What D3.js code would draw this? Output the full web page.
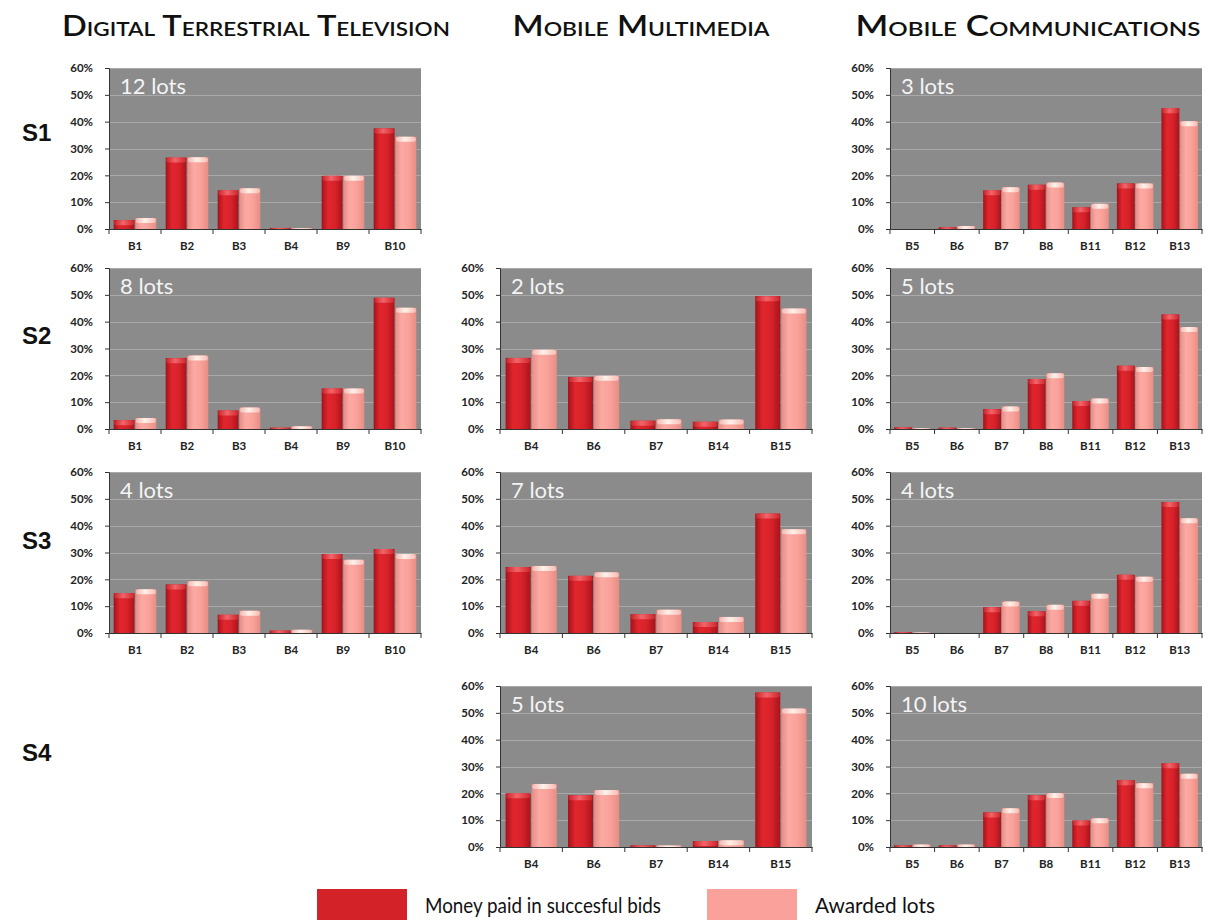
<!DOCTYPE html>
<html>
<head>
<meta charset="utf-8">
<script src="https://cdn.jsdelivr.net/npm/d3@7"></script>
<style>
  html, body { margin: 0; padding: 0; background: #ffffff; }
  svg { display: block; }
</style>
</head>
<body>
<svg id="chart" width="1213" height="920"></svg>
<script>
// ---------------- DATA ----------------
const columnTitles = ["Digital Terrestrial Television", "Mobile Multimedia", "Mobile Communications"];
const rowLabels = ["S1", "S2", "S3", "S4"];
const seriesNames = ["Money paid in succesful bids", "Awarded lots"];
const yTicks = [0, 10, 20, 30, 40, 50, 60];

const dttCategories = ["B1", "B2", "B3", "B4", "B9", "B10"];
const mmCategories  = ["B4", "B6", "B7", "B14", "B15"];
const mcCategories  = ["B5", "B6", "B7", "B8", "B11", "B12", "B13"];

// Digital Terrestrial Television
const dttS1Money = [3.3, 26.6, 14.4, 0.4, 19.8, 37.5];
const dttS1Lots  = [4.1, 26.7, 15.2, 0.3, 19.8, 34.4];
const dttS2Money = [3.3, 26.4, 6.9, 0.5, 15.1, 48.9];
const dttS2Lots  = [4.1, 27.4, 8.0, 1.0, 15.1, 45.2];
const dttS3Money = [14.8, 18.1, 6.8, 0.9, 29.4, 31.3];
const dttS3Lots  = [16.3, 19.3, 8.3, 1.2, 27.3, 29.4];

// Mobile Multimedia
const mmS2Money = [26.5, 19.4, 3.1, 2.7, 49.5];
const mmS2Lots  = [29.5, 19.8, 3.6, 3.5, 44.9];
const mmS3Money = [24.6, 21.3, 7.0, 4.1, 44.5];
const mmS3Lots  = [25.0, 22.6, 8.7, 6.0, 38.7];
const mmS4Money = [20.0, 19.3, 0.6, 2.2, 57.6];
const mmS4Lots  = [23.5, 21.2, 0.6, 2.5, 51.6];

// Mobile Communications
const mcS1Money = [0.0, 0.6, 14.4, 16.5, 8.1, 17.0, 45.0];
const mcS1Lots  = [0.0, 1.1, 15.6, 17.3, 9.4, 17.0, 40.2];
const mcS2Money = [0.6, 0.5, 7.4, 18.6, 10.4, 23.6, 42.7];
const mcS2Lots  = [0.3, 0.3, 8.4, 20.8, 11.4, 23.1, 38.0];
const mcS3Money = [0.3, 0.0, 9.6, 8.1, 12.0, 21.7, 48.8];
const mcS3Lots  = [0.2, 0.0, 11.7, 10.5, 14.6, 21.0, 42.8];
const mcS4Money = [0.6, 0.6, 12.9, 19.3, 9.9, 24.9, 31.2];
const mcS4Lots  = [0.9, 0.9, 14.4, 20.1, 10.7, 23.8, 27.3];

const lotLabels = ["12 lots", "3 lots", "8 lots", "2 lots", "5 lots", "4 lots", "7 lots", "4 lots", "5 lots", "10 lots"];

// panels: column index, row index, categories, series
const panels = [
  { col: 0, row: 0, cats: dttCategories, money: dttS1Money, lots: dttS1Lots, label: lotLabels[0] },
  { col: 2, row: 0, cats: mcCategories,  money: mcS1Money,  lots: mcS1Lots,  label: lotLabels[1] },
  { col: 0, row: 1, cats: dttCategories, money: dttS2Money, lots: dttS2Lots, label: lotLabels[2] },
  { col: 1, row: 1, cats: mmCategories,  money: mmS2Money,  lots: mmS2Lots,  label: lotLabels[3] },
  { col: 2, row: 1, cats: mcCategories,  money: mcS2Money,  lots: mcS2Lots,  label: lotLabels[4] },
  { col: 0, row: 2, cats: dttCategories, money: dttS3Money, lots: dttS3Lots, label: lotLabels[5] },
  { col: 1, row: 2, cats: mmCategories,  money: mmS3Money,  lots: mmS3Lots,  label: lotLabels[6] },
  { col: 2, row: 2, cats: mcCategories,  money: mcS3Money,  lots: mcS3Lots,  label: lotLabels[7] },
  { col: 1, row: 3, cats: mmCategories,  money: mmS4Money,  lots: mmS4Lots,  label: lotLabels[8] },
  { col: 2, row: 3, cats: mcCategories,  money: mcS4Money,  lots: mcS4Lots,  label: lotLabels[9] }
];

// ---------------- LAYOUT ----------------
const colX = [109, 500, 890];
const rowY = [68, 268, 472, 686];
const plotW = 312, plotH = 161;
const titleX = [256, 641, 1028];
const titleLen = [388, 257, 345];
const rowLabelY = [141, 344, 549, 761];

const FONT = "Lato, 'Open Sans', sans-serif";
const svg = d3.select("#chart");
const defs = svg.append("defs");

function hGrad(id, stops) {
  const g = defs.append("linearGradient").attr("id", id)
    .attr("x1", "0%").attr("x2", "100%").attr("y1", "0%").attr("y2", "0%");
  stops.forEach(s => g.append("stop").attr("offset", s[0]).attr("stop-color", s[1]));
}
hGrad("gRed",  [["0%", "#a3121a"], ["30%", "#e1262d"], ["65%", "#d7222a"], ["100%", "#a8141b"]]);
hGrad("gPink", [["0%", "#e58d86"], ["30%", "#fbaaa3"], ["65%", "#f9a199"], ["100%", "#e68d86"]]);
hGrad("gRedCap",  [["0%", "#c9242a"], ["45%", "#f2656a"], ["100%", "#d0262c"]]);
hGrad("gPinkCap", [["0%", "#f3b8b2"], ["45%", "#fff2ea"], ["100%", "#f6bcb5"]]);

const fills = ["url(#gRed)", "url(#gPink)"];
const capFills = ["url(#gRedCap)", "url(#gPinkCap)"];

// Column titles
columnTitles.forEach((t, i) => {
  svg.append("text")
    .attr("x", titleX[i]).attr("y", 36)
    .attr("text-anchor", "middle")
    .attr("font-family", FONT)
    .attr("font-size", 29)
    .attr("font-weight", 600)
    .style("font-variant", "small-caps")
    .attr("textLength", titleLen[i])
    .attr("lengthAdjust", "spacingAndGlyphs")
    .attr("fill", "#111")
    .text(t);
});

// Row labels
rowLabels.forEach((r, i) => {
  svg.append("text")
    .attr("x", 22).attr("y", rowLabelY[i])
    .attr("font-family", "'Liberation Sans', Arial, sans-serif")
    .attr("font-size", 24).attr("font-weight", "bold")
    .attr("fill", "#111")
    .text(r);
});

// Panels
panels.forEach(p => {
  const g = svg.append("g").attr("transform", `translate(${colX[p.col]},${rowY[p.row]})`);
  const x = d3.scaleBand().domain(p.cats).range([0, plotW]).paddingInner(0.18).paddingOuter(0.09);
  const xs = d3.scaleBand().domain([0, 1]).range([0, x.bandwidth()]).paddingInner(0.04);
  const y = d3.scaleLinear().domain([0, 60]).range([plotH, 0]);

  g.append("rect").attr("x", 0).attr("y", 0).attr("width", plotW).attr("height", plotH)
    .attr("fill", "#8b8b8b");

  g.selectAll(".grid").data(yTicks.filter(d => d > 0)).enter().append("line")
    .attr("x1", 0).attr("x2", plotW)
    .attr("y1", d => Math.round(y(d)) + 0.5).attr("y2", d => Math.round(y(d)) + 0.5)
    .attr("stroke", "#a9a9a9").attr("stroke-width", 1);

  const rows = p.cats.map((c, i) => ({ cat: c, vals: [p.money[i], p.lots[i]] }));
  const grp = g.selectAll(".grp").data(rows).enter().append("g")
    .attr("transform", d => `translate(${x(d.cat)},0)`);

  grp.each(function(d) {
    const gg = d3.select(this);
    d.vals.forEach((v, k) => {
      if (v <= 0) return;
      const top = y(v), h = plotH - top;
      gg.append("rect").attr("x", xs(k)).attr("y", top)
        .attr("width", xs.bandwidth()).attr("height", h)
        .attr("fill", fills[k]);
      const capH = Math.min(5, h);
      gg.append("rect").attr("x", xs(k) + 0.5).attr("y", top)
        .attr("width", xs.bandwidth() - 1).attr("height", capH)
        .attr("rx", 3).attr("ry", 2)
        .attr("fill", capFills[k]);
    });
  });

  // y axis
  const yAxis = g.append("g").call(
    d3.axisLeft(y).tickValues(yTicks).tickSize(4).tickPadding(12).tickFormat(d => d + "%")
  );
  yAxis.select(".domain").attr("stroke", "#333");
  yAxis.selectAll(".tick line").attr("stroke", "#333");
  yAxis.selectAll("text").attr("font-family", FONT).attr("font-size", 11.5)
    .attr("font-weight", "bold").attr("fill", "#222");

  // x axis
  const xAxis = g.append("g").attr("transform", `translate(0,${plotH})`).call(
    d3.axisBottom(x).tickSize(0).tickPadding(13)
  );
  xAxis.select(".domain").attr("stroke", "#333");
  xAxis.selectAll("text").attr("font-family", FONT).attr("font-size", 11.5)
    .attr("font-weight", "bold").attr("fill", "#222");
  const bounds = d3.range(p.cats.length + 1).map(i => i * plotW / p.cats.length);
  xAxis.selectAll(".bnd").data(bounds).enter().append("line")
    .attr("x1", d => d).attr("x2", d => d).attr("y1", 0).attr("y2", 5)
    .attr("stroke", "#333");

  g.append("text").attr("x", 11).attr("y", 26)
    .attr("font-family", FONT).attr("font-size", 22)
    .attr("fill", "#f4f4f4")
    .text(p.label);
});

// Legend
const legX = [317, 707], legTextX = [425, 815], legTextLen = [236, 120];
seriesNames.forEach((s, i) => {
  svg.append("rect").attr("x", legX[i]).attr("y", 889).attr("width", 90).attr("height", 31)
    .attr("fill", i === 0 ? "#d42229" : "#f9a19a");
  svg.append("text").attr("x", legTextX[i]).attr("y", 913)
    .attr("font-family", FONT).attr("font-size", 21).attr("fill", "#111")
    .attr("textLength", legTextLen[i]).attr("lengthAdjust", "spacingAndGlyphs")
    .text(s);
});
</script>
</body>
</html>
